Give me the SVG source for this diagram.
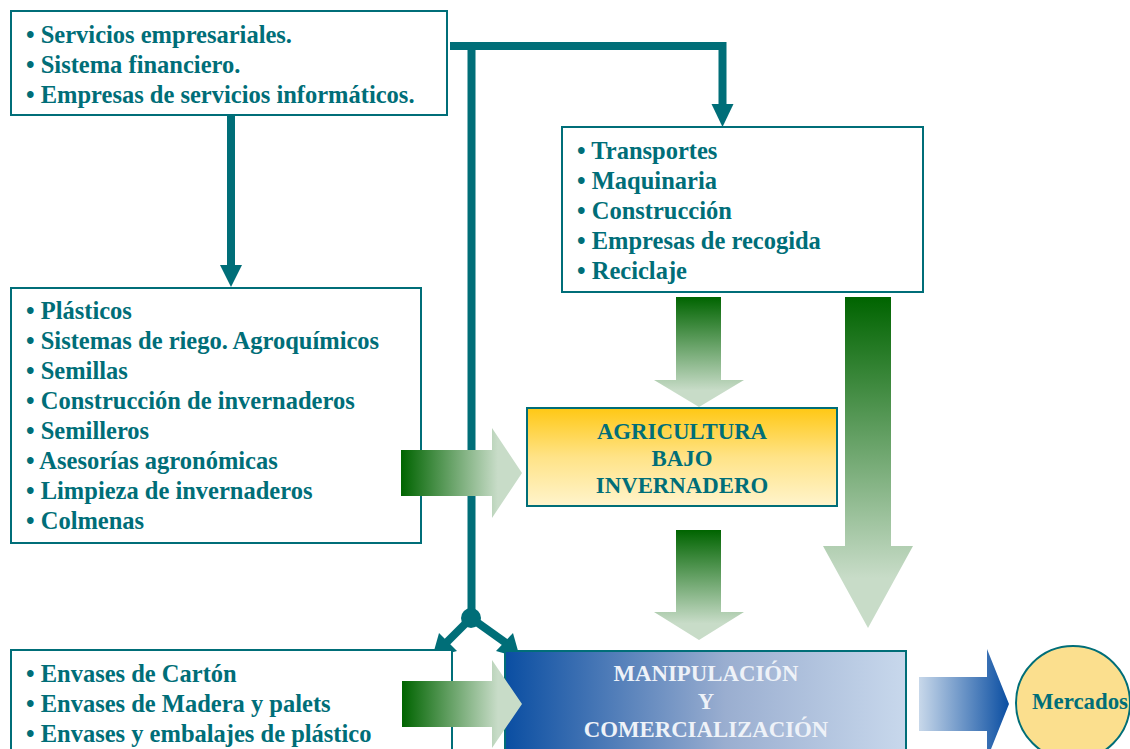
<svg xmlns="http://www.w3.org/2000/svg" width="1130" height="749" viewBox="0 0 1130 749">
<defs>
<linearGradient id="gDown" x1="0" y1="0" x2="0" y2="1"><stop offset="0" stop-color="#006400"/><stop offset="0.85" stop-color="#c8dcc8"/><stop offset="1" stop-color="#c8dcc8"/></linearGradient>
<linearGradient id="gRight" x1="0" y1="0" x2="1" y2="0"><stop offset="0" stop-color="#006400"/><stop offset="0.8" stop-color="#c8dcc8"/><stop offset="1" stop-color="#c8dcc8"/></linearGradient>
<linearGradient id="gBlueArrow" x1="0" y1="0" x2="1" y2="0"><stop offset="0" stop-color="#c8d8ea"/><stop offset="1" stop-color="#0a4ea2"/></linearGradient>
<linearGradient id="gAgri" x1="0" y1="0" x2="0" y2="1"><stop offset="0" stop-color="#ffc814"/><stop offset="0.5" stop-color="#ffe387"/><stop offset="1" stop-color="#fff4cc"/></linearGradient>
<linearGradient id="gManip" x1="0" y1="0" x2="1" y2="0"><stop offset="0" stop-color="#0a4ea2"/><stop offset="0.55" stop-color="#9aaed0"/><stop offset="1" stop-color="#c8d8ec"/></linearGradient>
</defs>
<style>
.box{fill:#ffffff;stroke:#006e78;stroke-width:2}
.t{font-family:"Liberation Serif","Times New Roman",serif;font-weight:bold;font-size:24.5px;fill:#006e78}
.c{font-family:"Liberation Serif","Times New Roman",serif;font-weight:bold;font-size:22.8px;text-anchor:middle}
.ln{stroke:#006e78;stroke-width:8;fill:none}
.hd{fill:#006e78}
</style>
<rect width="1130" height="749" fill="#ffffff"/>

<g id="connectors">
<path class="ln" d="M231,115 V267"/>
<path class="hd" d="M220,265 H242 L231,287 Z"/>
<path class="ln" d="M450,46 H722.5 V106"/>
<path class="hd" d="M711.5,104 H733.5 L722.5,127 Z"/>
<path class="ln" d="M471.5,46 V618"/>
<circle cx="471" cy="618" r="10" fill="#006e78"/>
<path class="ln" d="M471,618 L446,643"/>
<path class="hd" d="M432,658 L439,633 L457,651 Z"/>
<path class="ln" d="M471,618 L506,643"/>
<path class="hd" d="M520,658 L496,651 L513,633 Z"/>
<path d="M676,297 H721 V380 H744 L699,407 L654,380 H676 Z" fill="url(#gDown)"/>
<path d="M676,530 H721 V612 H744 L699,640 L654,612 H676 Z" fill="url(#gDown)"/>
<path d="M845,297 H891 V546 H913 L868,628 L823,546 H845 Z" fill="url(#gDown)"/>
<path d="M919,677 H987 V649 L1009,704 L987,759 V731 H919 Z" fill="url(#gBlueArrow)"/>
</g>

<g id="n-servicios">
<rect class="box" x="11" y="11" width="436" height="104"/>
<text class="t" x="26" y="43">• Servicios empresariales.</text>
<text class="t" x="26" y="73">• Sistema financiero.</text>
<text class="t" x="26" y="103">• Empresas de servicios informáticos.</text>
</g>

<g id="n-transportes">
<rect class="box" x="562" y="127" width="361" height="165"/>
<text class="t" x="577" y="159">• Transportes</text>
<text class="t" x="577" y="189">• Maquinaria</text>
<text class="t" x="577" y="219">• Construcción</text>
<text class="t" x="577" y="249">• Empresas de recogida</text>
<text class="t" x="577" y="279">• Reciclaje</text>
</g>

<g id="n-plasticos">
<rect class="box" x="11" y="288" width="410" height="255"/>
<text class="t" x="26" y="319">• Plásticos</text>
<text class="t" x="26" y="349">• Sistemas de riego. Agroquímicos</text>
<text class="t" x="26" y="379">• Semillas</text>
<text class="t" x="26" y="409">• Construcción de invernaderos</text>
<text class="t" x="26" y="439">• Semilleros</text>
<text class="t" x="26" y="469">• Asesorías agronómicas</text>
<text class="t" x="26" y="499">• Limpieza de invernaderos</text>
<text class="t" x="26" y="529">• Colmenas</text>
</g>

<g id="arrow-agri">
<path d="M401,450 H492 V428 L522,473 L492,518 V496 H401 Z" fill="url(#gRight)"/>
</g>

<g id="n-agricultura">
<rect x="527" y="408" width="310" height="98" fill="url(#gAgri)" stroke="#006e78" stroke-width="2"/>
<text class="c" x="682" y="439" fill="#006e78">AGRICULTURA</text>
<text class="c" x="682" y="466" fill="#006e78">BAJO</text>
<text class="c" x="682" y="493" fill="#006e78">INVERNADERO</text>
</g>

<g id="n-envases">
<rect class="box" x="11" y="650" width="441" height="110"/>
<text class="t" x="26" y="682">• Envases de Cartón</text>
<text class="t" x="26" y="712">• Envases de Madera y palets</text>
<text class="t" x="26" y="742">• Envases y embalajes de plástico</text>
</g>

<g id="n-manipulacion">
<rect x="505" y="651" width="401" height="110" fill="url(#gManip)" stroke="#006e78" stroke-width="2"/>
<text class="c" x="706" y="681" fill="#eef2f8">MANIPULACIÓN</text>
<text class="c" x="706" y="709" fill="#eef2f8">Y</text>
<text class="c" x="706" y="737" fill="#eef2f8">COMERCIALIZACIÓN</text>
</g>

<g id="arrow-manip">
<path d="M402,681 H492 V660 L522,704 L492,748 V727 H402 Z" fill="url(#gRight)"/>
</g>

<g id="n-mercados">
<circle cx="1073" cy="703" r="57" fill="#fbdf8e" stroke="#006e78" stroke-width="2"/>
<text class="c" x="1080" y="709" fill="#006e78">Mercados</text>
</g>
</svg>
